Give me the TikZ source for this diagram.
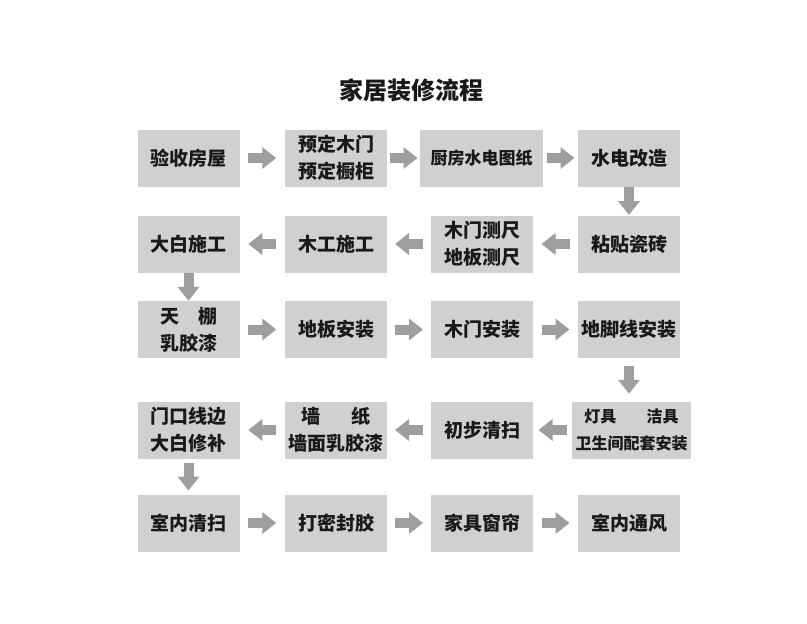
\documentclass[tikz,border=0pt]{standalone}
\usepackage{fontspec}
\setmainfont{Noto Sans CJK SC}
\usetikzlibrary{arrows.meta,calc}
\definecolor{boxgray}{RGB}{208,208,208}
\definecolor{arrgray}{RGB}{158,158,158}
\definecolor{txt}{RGB}{25,25,25}
\newcommand\flowarrow[2]{\draw[barrow] ($(#1)!0.5!(#2)!14pt!(#1)$) -- ($(#1)!0.5!(#2)!14pt!(#2)$);}
\begin{document}
\begin{tikzpicture}[x=1pt,y=-1pt,
  stepbox/.style={fill=boxgray, inner sep=0pt, minimum width=102pt, minimum height=57pt,
    align=center, font=\fontsize{19}{27}\selectfont\bfseries, text=txt},
  barrow/.style={draw=arrgray, line width=10pt, -{Triangle[width=21pt,length=14pt]}, fill=arrgray}]
\fill[white] (0,0) rectangle (807,624);
\useasboundingbox (0,0) rectangle (807,624);
\node[text=txt, font=\fontsize{24}{28}\selectfont\bfseries] (title) at (411,90) {家居装修流程};
% row 1
\node[stepbox] (a1) at (188.5,158) {验收房屋};
\node[stepbox] (a2) at (336,158) {预定木门\\预定橱柜};
\node[stepbox, minimum width=123pt, font=\fontsize{17}{24}\selectfont\bfseries] (a3) at (481.5,158) {厨房水电图纸};
\node[stepbox] (a4) at (629,158) {水电改造};
% row 2
\node[stepbox] (b1) at (188.5,244) {大白施工};
\node[stepbox] (b2) at (336,244) {木工施工};
\node[stepbox] (b3) at (482,244) {木门测尺\\地板测尺};
\node[stepbox] (b4) at (629,244) {粘贴瓷砖};
% row 3
\node[stepbox] (c1) at (188.5,329.5) {\makebox[3em][s]{天\hfil 棚}\\乳胶漆};
\node[stepbox] (c2) at (336,329.5) {地板安装};
\node[stepbox] (c3) at (482,329.5) {木门安装};
\node[stepbox] (c4) at (629,329.5) {地脚线安装};
% row 4
\node[stepbox] (d1) at (188.5,430) {门口线边\\大白修补};
\node[stepbox] (d2) at (336,430) {墙\hspace{1.6em}纸\\墙面乳胶漆};
\node[stepbox] (d3) at (482,430) {初步清扫};
\node[stepbox, minimum width=119pt, font=\fontsize{16}{27}\selectfont\bfseries] (d4) at (631.5,430) {灯具\hspace{1.9em}洁具\\卫生间配套安装};
% row 5
\node[stepbox] (e1) at (188.5,523) {室内清扫};
\node[stepbox] (e2) at (336,523) {打密封胶};
\node[stepbox] (e3) at (482,523) {家具窗帘};
\node[stepbox] (e4) at (629,523) {室内通风};
% arrows
\flowarrow{a1.east}{a2.west}
\flowarrow{a2.east}{a3.west}
\flowarrow{a3.east}{a4.west}
\flowarrow{a4.south}{b4.north}
\flowarrow{b4.west}{b3.east}
\flowarrow{b3.west}{b2.east}
\flowarrow{b2.west}{b1.east}
\flowarrow{b1.south}{c1.north}
\flowarrow{c1.east}{c2.west}
\flowarrow{c2.east}{c3.west}
\flowarrow{c3.east}{c4.west}
\flowarrow{c4.south}{c4.south |- d4.north}
\flowarrow{d4.west}{d3.east}
\flowarrow{d3.west}{d2.east}
\flowarrow{d2.west}{d1.east}
\flowarrow{d1.south}{e1.north}
\flowarrow{e1.east}{e2.west}
\flowarrow{e2.east}{e3.west}
\flowarrow{e3.east}{e4.west}
\end{tikzpicture}
\end{document}
